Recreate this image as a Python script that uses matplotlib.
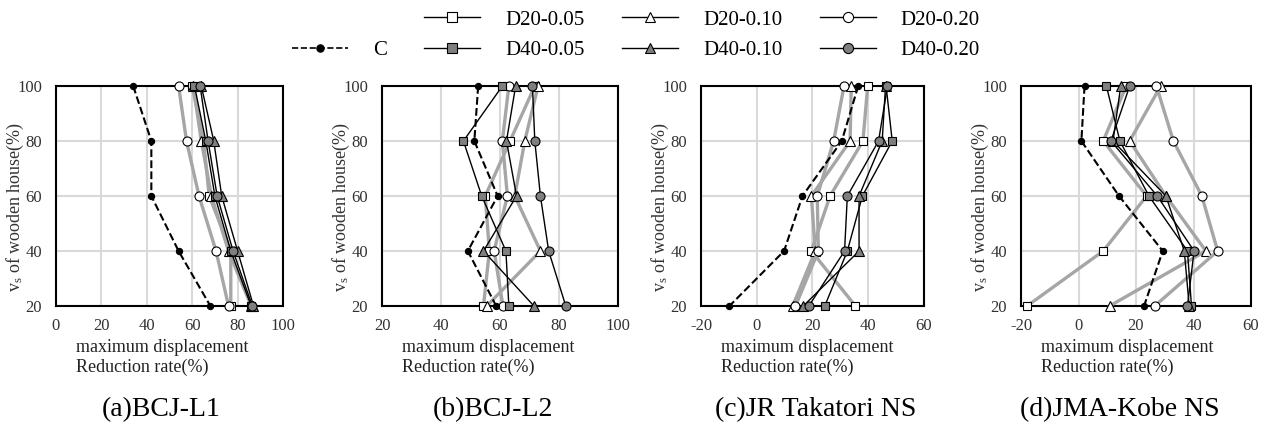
import matplotlib
matplotlib.use("Agg")
import matplotlib.pyplot as plt
from matplotlib.lines import Line2D

plt.rcParams['font.family'] = ['Liberation Serif', 'DejaVu Serif']
plt.rcParams['mathtext.fontset'] = 'custom'
plt.rcParams['mathtext.rm'] = 'Liberation Serif'
plt.rcParams['mathtext.it'] = 'Liberation Serif'
plt.rcParams['axes.unicode_minus'] = False

# vs of wooden house (%) for each point, top to bottom
vs = [100, 80, 60, 40, 20]

series_names = ['C', 'D20-0.05', 'D20-0.10', 'D20-0.20', 'D40-0.05', 'D40-0.10', 'D40-0.20']

# (a) BCJ-L1
a_c = [34, 42, 42, 54, 68]
a_d20_005 = [60, 65, 67.5, 77, 77]
a_d20_010 = [60.5, 64, 68.5, 76, 86]
a_d20_020 = [54, 57.5, 63, 70.5, 76]
a_d40_005 = [61, 66, 70, 77, 86]
a_d40_010 = [64, 69.5, 73, 80, 87]
a_d40_020 = [63.5, 67, 71, 78, 86.5]

# (b) BCJ-L2
b_c = [52.6, 51.3, 59.2, 49.1, 58.7]
b_d20_005 = [71.8, 63.4, 55, 56.4, 54.4]
b_d20_010 = [72.9, 68.4, 65, 73.7, 55.5]
b_d20_020 = [63, 60.8, 62.5, 58, 61]
b_d40_005 = [60.8, 47.6, 53.8, 62, 63]
b_d40_010 = [65.3, 62.2, 65.6, 54.4, 71.5]
b_d40_020 = [71, 71.8, 73.7, 76.5, 82.3]

# (c) JR Takatori NS
c_c = [36.4, 30.5, 16.4, 9.8, -9.8]
c_d20_005 = [39.8, 38.1, 26.3, 19.6, 35.4]
c_d20_010 = [33.9, 33.5, 19.6, 21, 12.9]
c_d20_020 = [31.3, 27.6, 21.7, 22.1, 13.9]
c_d40_005 = [46.4, 48.6, 37.9, 32.5, 24.4]
c_d40_010 = [46.2, 45, 36.7, 36.7, 16.7]
c_d40_020 = [46.9, 43.7, 32.5, 31.5, 18.7]

# (d) JMA-Kobe NS
d_c = [2.1, 1.0, 14.1, 29.3, 22.8]
d_d20_005 = [16.6, 8.6, 23.7, 8.6, -17.9]
d_d20_010 = [28.6, 17.8, 30.4, 44.3, 10.8]
d_d20_020 = [27.1, 33, 42.9, 48.4, 26.5]
d_d40_005 = [9.7, 14.4, 24.5, 37.9, 39.3]
d_d40_010 = [14.7, 12, 30.4, 36.8, 38.5]
d_d40_020 = [17.8, 11.3, 27.4, 40.2, 37.9]

titles = ['(a)BCJ-L1', '(b)BCJ-L2', '(c)JR Takatori NS', '(d)JMA-Kobe NS']
xlims = [(0, 100), (20, 100), (-20, 60), (-20, 60)]

panels = [
    [a_c, a_d20_005, a_d20_010, a_d20_020, a_d40_005, a_d40_010, a_d40_020],
    [b_c, b_d20_005, b_d20_010, b_d20_020, b_d40_005, b_d40_010, b_d40_020],
    [c_c, c_d20_005, c_d20_010, c_d20_020, c_d40_005, c_d40_010, c_d40_020],
    [d_c, d_d20_005, d_d20_010, d_d20_020, d_d40_005, d_d40_010, d_d40_020],
]

GRAY_LINE = '#a6a6a6'
GRAY_FILL = '#7f7f7f'
styles = {
    'C': dict(color='black', ls='--', lw=1.5, marker='o', ms=4.5, mfc='black', mec='black'),
    'D20-0.05': dict(color=GRAY_LINE, ls='-', lw=2.4, marker='s', ms=6, mfc='white', mec='black'),
    'D20-0.10': dict(color=GRAY_LINE, ls='-', lw=2.4, marker='^', ms=6.5, mfc='white', mec='black'),
    'D20-0.20': dict(color=GRAY_LINE, ls='-', lw=2.4, marker='o', ms=6.5, mfc='white', mec='black'),
    'D40-0.05': dict(color='black', ls='-', lw=1.0, marker='s', ms=6, mfc=GRAY_FILL, mec='black'),
    'D40-0.10': dict(color='black', ls='-', lw=1.0, marker='^', ms=6.5, mfc=GRAY_FILL, mec='black'),
    'D40-0.20': dict(color='black', ls='-', lw=1.0, marker='o', ms=6.5, mfc=GRAY_FILL, mec='black'),
}
draw_order = ['D20-0.05', 'D20-0.10', 'D20-0.20', 'D40-0.05', 'D40-0.10', 'D40-0.20', 'C']

W, H = 1267, 425
fig = plt.figure(figsize=(W / 100, H / 100), dpi=100)

# axes boxes in pixels: left, right, top, bottom
boxes = [(56, 283, 86, 306), (382, 618, 86, 306), (701, 924, 86, 306), (1021, 1251, 86, 306)]
title_x = [161, 493, 816, 1120]

for i, (l, r, t, b) in enumerate(boxes):
    ax = fig.add_axes([l / W, 1 - b / H, (r - l) / W, (b - t) / H])
    data = dict(zip(series_names, panels[i]))
    for name in draw_order:
        st = styles[name]
        ax.plot(data[name], vs, color=st['color'], linestyle=st['ls'], linewidth=st['lw'],
                marker=st['marker'], markersize=st['ms'], markerfacecolor=st['mfc'],
                markeredgecolor=st['mec'], markeredgewidth=0.8, clip_on=False, zorder=3)
    ax.set_xlim(*xlims[i])
    ax.set_ylim(20, 100)
    ax.set_xticks(range(xlims[i][0], xlims[i][1] + 1, 20))
    ax.set_yticks([20, 40, 60, 80, 100])
    ax.grid(True, color='#d9d9d9', linewidth=1.5)
    ax.set_axisbelow(True)
    ax.tick_params(length=0, labelsize=12, colors='#333333')
    ax.tick_params(axis='y', pad=10)
    ax.tick_params(axis='x', pad=9)
    for sp in ax.spines.values():
        sp.set_linewidth(1.5)
        sp.set_color('black')
    ax.set_ylabel('v$_\\mathrm{s}$ of wooden house(%)', fontsize=13, color='#333333')
    ax.yaxis.set_label_coords(-30 / (r - l), 0.45)
    fig.text((l + 20) / W, 1 - 347 / H, 'maximum displacement', fontsize=13,
             ha='left', va='center', color='#222222')
    fig.text((l + 20) / W, 1 - 367 / H, 'Reduction rate(%)', fontsize=13,
             ha='left', va='center', color='#222222')
    fig.text(title_x[i] / W, 1 - 410 / H, titles[i], fontsize=20, ha='center', va='center')

# legend: blank slot above C, then D20 over D40 per column
def handle(name):
    st = styles[name]
    return Line2D([], [], color='black', linestyle=st['ls'], linewidth=1.0 if name != 'C' else 1.2,
                  marker=st['marker'], markersize=st['ms'] + 0.8, markerfacecolor=st['mfc'],
                  markeredgecolor='black', markeredgewidth=0.8)

blank = Line2D([], [], linestyle='none')
handles = [blank, handle('C'), handle('D20-0.05'), handle('D40-0.05'),
           handle('D20-0.10'), handle('D40-0.10'), handle('D20-0.20'), handle('D40-0.20')]
labels = ['', 'C', 'D20-0.05', 'D40-0.05', 'D20-0.10', 'D40-0.10', 'D20-0.20', 'D40-0.20']
fig.legend(handles, labels, ncol=4, loc='upper left', bbox_to_anchor=(292 / W, 1 - 10 / H),
           frameon=False, fontsize=15, handlelength=2.7, handletextpad=1.2,
           columnspacing=1.78, labelspacing=0.52, borderpad=0, borderaxespad=0)

fig.savefig('out.png', dpi=100)
